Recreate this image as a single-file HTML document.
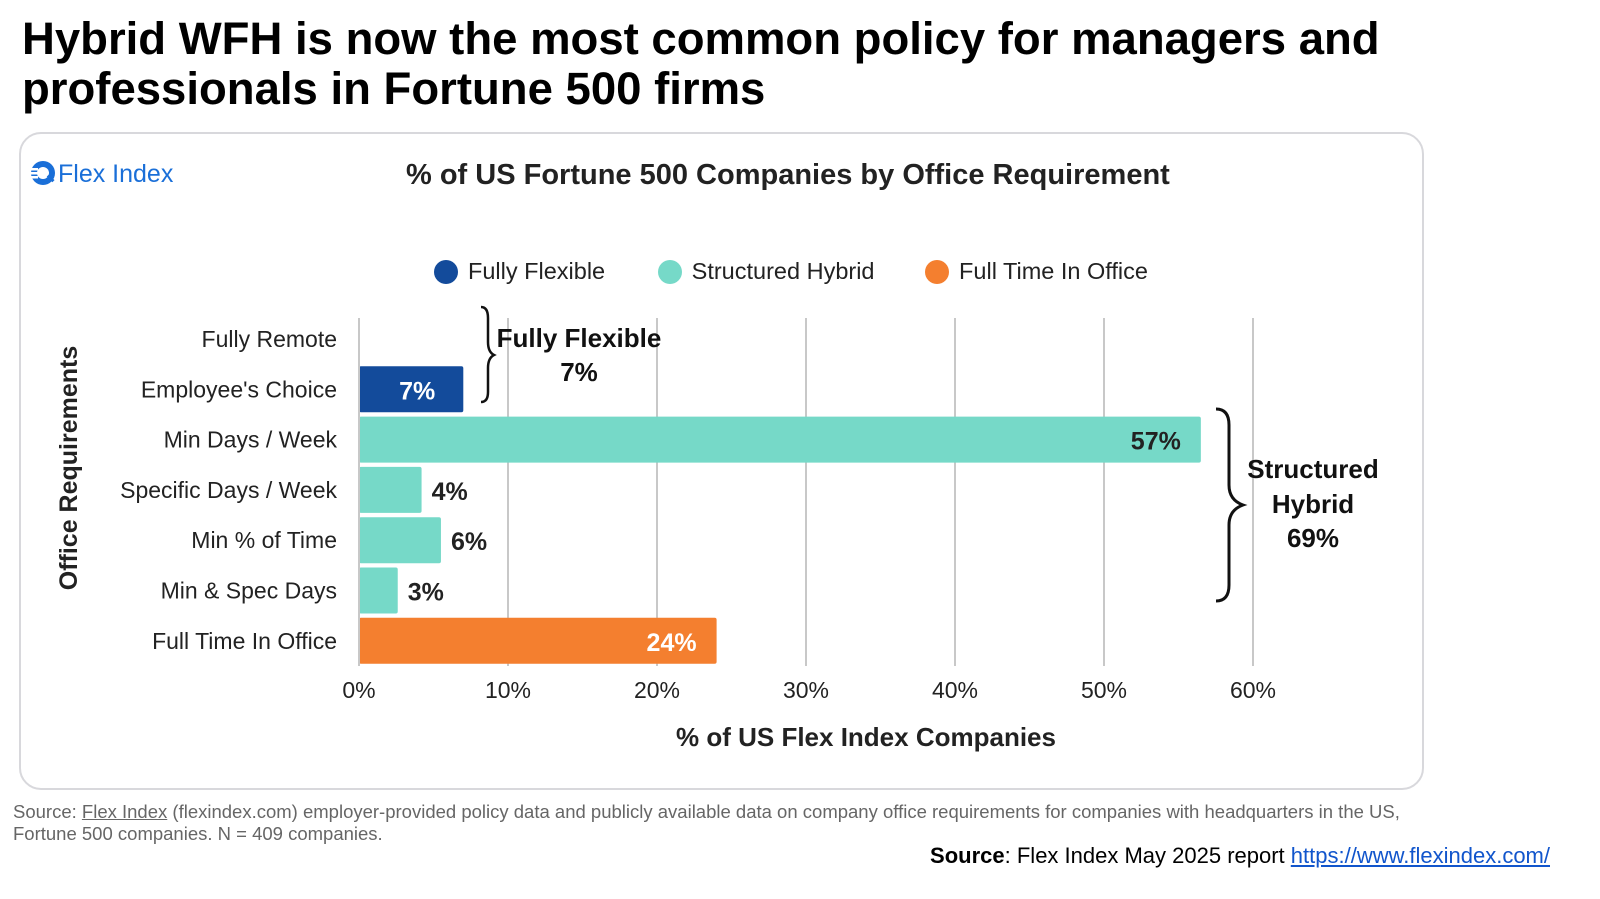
<!DOCTYPE html>
<html><head><meta charset="utf-8"><style>
body{margin:0;width:1600px;height:899px;background:#fff;font-family:"Liberation Sans",sans-serif;position:relative;overflow:hidden}
.a{position:absolute;white-space:nowrap}
</style></head><body>
<div class="a" style="left:22px;top:14px;font-size:45.5px;font-weight:bold;line-height:50px;color:#000">Hybrid WFH is now the most common policy for managers and<br>professionals in Fortune 500 firms</div>
<div class="a" style="left:19px;top:132px;width:1401px;height:654px;border:2px solid #d8d8dc;border-radius:22px"></div>
<div class="a" style="left:26px;top:158px;font-size:25px;color:#1a6fd8;line-height:30px">
<svg width="32" height="30" style="vertical-align:-6px" viewBox="0 0 32 30"><circle cx="17" cy="15" r="12" fill="#1a6fd8"/><circle cx="17" cy="15" r="6" fill="#fff"/><rect x="2" y="10" width="10" height="2.5" fill="#fff"/><rect x="2" y="14" width="10" height="2.5" fill="#fff"/><rect x="2" y="18" width="10" height="2.5" fill="#fff"/><rect x="21" y="19" width="8" height="3" fill="#1a6fd8" transform="rotate(45 25 20)"/></svg>Flex Index</div>
<div class="a" style="left:406px;top:159px;font-size:29px;font-weight:bold;color:#222">% of US Fortune 500 Companies by Office Requirement</div>
<div class="a" style="left:434px;top:257px;font-size:23.5px;color:#222;line-height:28px">
<span><span style="display:inline-block;width:24px;height:24px;border-radius:50%;background:#134b9b;vertical-align:-5px;margin-right:10px"></span>Fully Flexible</span>
<span style="margin-left:46px"><span style="display:inline-block;width:24px;height:24px;border-radius:50%;background:#76d9c8;vertical-align:-5px;margin-right:10px"></span>Structured Hybrid</span>
<span style="margin-left:44px"><span style="display:inline-block;width:24px;height:24px;border-radius:50%;background:#f47f2f;vertical-align:-5px;margin-right:10px"></span>Full Time In Office</span></div>
<svg class="a" style="left:0;top:0" width="1600" height="899" id="chart" font-family="Liberation Sans, sans-serif"></svg>
<div class="a" style="left:13px;top:801px;font-size:18.5px;color:#666;line-height:22px">Source: <u>Flex Index</u> (flexindex.com) employer-provided policy data and publicly available data on company office requirements for companies with headquarters in the US,<br>Fortune 500 companies. N = 409 companies.</div>
<div class="a" style="right:50px;top:843px;font-size:22px;color:#000"><b>Source</b>: Flex Index May 2025 report <span style="color:#1155cc;text-decoration:underline">https://www.flexindex.com/</span></div>
<script>
const categories=["Fully Remote","Employee's Choice","Min Days / Week","Specific Days / Week","Min % of Time","Min & Spec Days","Full Time In Office"];
const values=[0,7,56.5,4.2,5.5,2.6,24];
const valueLabels=["","7%","57%","4%","6%","3%","24%"];
const groups=["none","flex","hybrid","hybrid","hybrid","hybrid","office"];
const ticks=[0,10,20,30,40,50,60];
const tickLabels=["0%","10%","20%","30%","40%","50%","60%"];
const colors={flex:"#134b9b",hybrid:"#76d9c8",office:"#f47f2f",none:"none"};
const svg=document.getElementById('chart');const NS="http://www.w3.org/2000/svg";
const x=v=>359+v*(1253-359)/60;
const y=i=>339+i*50.3;
function mk(t,a,txt){const e=document.createElementNS(NS,t);for(const k in a)e.setAttribute(k,a[k]);if(txt!==undefined)e.textContent=txt;svg.appendChild(e);return e;}
ticks.forEach((t,i)=>{
 const g=mk('line',{x1:x(t),x2:x(t),y1:318,y2:666,stroke:'#c8c8c8','stroke-width':2});
 
 
 const l=mk('text',{x:x(t),y:698,'text-anchor':'middle','font-size':23,fill:'#222'},tickLabels[i]);
 
 
});
categories.forEach((c,i)=>{
 const l=mk('text',{x:337,y:y(i)+8,'text-anchor':'end','font-size':23,fill:'#222'},c);
 
 
 if(values[i]>0){
  const b=mk('rect',{x:x(0),y:y(i)-23,width:x(values[i])-x(0),height:46,rx:2,fill:colors[groups[i]]});
  
  
  const inside=values[i]>6;
  const t=mk('text',{x:inside?x(values[i])-(i==1?28:20):x(values[i])+10,y:y(i)+10,'text-anchor':inside?'end':'start','font-size':25,'font-weight':'bold',fill:groups[i]=='hybrid'?'#222':(inside?'#fff':'#222')},valueLabels[i]);
  
  
 }
});
mk('line',{x1:x(0),x2:x(0),y1:318,y2:666,stroke:'#c8c8c8','stroke-width':2});
const yt=mk('text',{x:0,y:0,transform:'translate(77,468) rotate(-90)','text-anchor':'middle','font-size':25,'font-weight':'bold',fill:'#222'},'Office Requirements');


const xt=mk('text',{x:866,y:746,'text-anchor':'middle','font-size':26,'font-weight':'bold',fill:'#222'},'% of US Flex Index Companies');


const b1=mk('path',{d:'M481,307 Q488,307 488,318 L488,342 Q488,352 494,355 Q488,358 488,368 L488,392 Q488,402 481,402',fill:'none',stroke:'#111','stroke-width':2.5});


const b2=mk('path',{d:'M1216,409 Q1229,409 1229,425 L1229,485 Q1229,500 1243,505 Q1229,510 1229,525 L1229,585 Q1229,601 1216,601',fill:'none',stroke:'#111','stroke-width':3});


[['Fully Flexible',579,347],['7%',579,381]].forEach(a=>{const t=mk('text',{x:a[1],y:a[2],'text-anchor':'middle','font-size':26,'font-weight':'bold',fill:'#111'},a[0]);});
[['Structured',1313,478],['Hybrid',1313,513],['69%',1313,547]].forEach(a=>{const t=mk('text',{x:a[1],y:a[2],'text-anchor':'middle','font-size':26,'font-weight':'bold',fill:'#111'},a[0]);});
</script>
</body></html>
